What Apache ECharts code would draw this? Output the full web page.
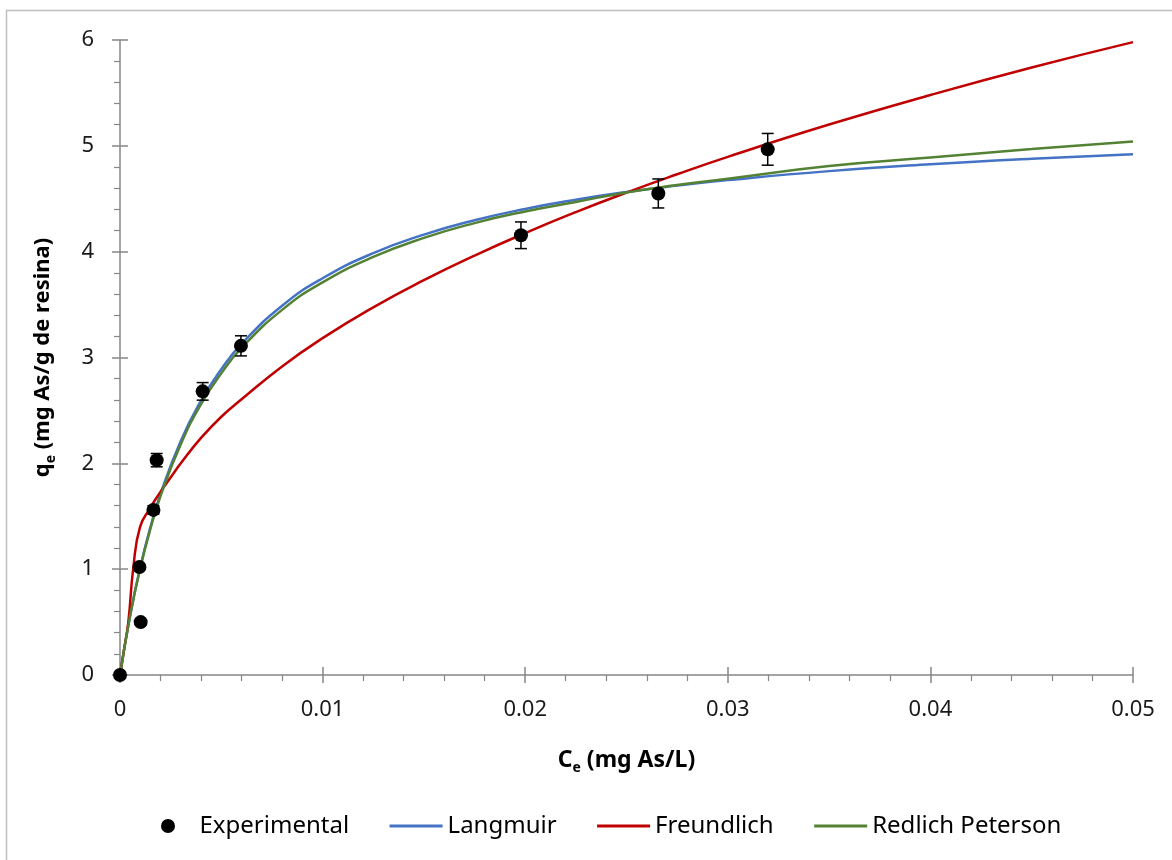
<!DOCTYPE html>
<html><head><meta charset="utf-8">
<script src="https://cdn.jsdelivr.net/npm/echarts@6/dist/echarts.min.js"></script>
<style>html,body{margin:0;padding:0;background:#fff}#c{width:1172px;height:860px}</style>
</head><body><div id="c"></div>
<script>
const expC   = [0, 0.00096, 0.00102, 0.00165, 0.00181, 0.00408, 0.00597, 0.01979, 0.02657, 0.03197];
const expQ   = [0, 1.02, 0.50, 1.56, 2.03, 2.68, 3.11, 4.155, 4.55, 4.967];
const expErr = [0, 0.02, 0.02, 0.04, 0.063, 0.083, 0.095, 0.126, 0.137, 0.15];

// Model curves
const curveC = [0, 0.0005, 0.001, 0.0015, 0.002, 0.003, 0.004, 0.005, 0.006, 0.008, 0.01, 0.0125, 0.015, 0.0175, 0.02, 0.0225, 0.025, 0.0275, 0.03, 0.035, 0.04, 0.045, 0.05];
const langQ  = [0, 0.563, 1.019, 1.395, 1.711, 2.212, 2.592, 2.889, 3.128, 3.489, 3.749, 3.986, 4.161, 4.297, 4.404, 4.491, 4.564, 4.624, 4.676, 4.761, 4.826, 4.878, 4.920];
const rpQ    = [0, 0.56, 1.01, 1.38, 1.69, 2.18, 2.56, 2.85, 3.09, 3.45, 3.71, 3.95, 4.13, 4.27, 4.38, 4.47, 4.56, 4.63, 4.69, 4.81, 4.89, 4.97, 5.04];
const freC   = [0, 0.0002, 0.00041, 0.00066, 0.00099, 0.00148, 0.00189, 0.00255, 0.003, 0.004, 0.005, 0.006, 0.008, 0.01, 0.0125, 0.015, 0.0175, 0.02, 0.0225, 0.025, 0.0275, 0.03, 0.035, 0.04, 0.045, 0.05];
const freQ   = [0, 0.24, 0.5, 1.02, 1.40, 1.575, 1.70, 1.88, 2.00, 2.24, 2.44, 2.605, 2.916, 3.183, 3.474, 3.731, 3.963, 4.176, 4.374, 4.558, 4.731, 4.896, 5.201, 5.48, 5.74, 5.98];

const xTicks = {min: 0, max: 0.05, interval: 0.01};
const yTicks = {min: 0, max: 6, interval: 1};
const seriesNames = ['Experimental', 'Langmuir', 'Freundlich', 'Redlich Peterson'];

const FONT = 'Noto Sans';
const axisColor = '#868686';
const chart = echarts.init(document.getElementById('c'));

function mainAxis(t, isX) {
  return {
    type: 'value', min: t.min, max: t.max, interval: t.interval,
    position: isX ? 'bottom' : 'left',
    axisLine: {show: true, lineStyle: {color: axisColor, width: 1.5}},
    axisTick: {show: true, inside: false, length: 8, lineStyle: {color: axisColor, width: 1.5}},
    minorTick: {show: true, splitNumber: 5, length: 6, lineStyle: {color: axisColor, width: 1.2}},
    splitLine: {show: false},
    axisLabel: {
      show: true, fontFamily: FONT, fontSize: 22, color: '#1a1a1a', margin: 24,
      formatter: v => v === 0 ? '0' : String(+v.toFixed(3))
    }
  };
}
function crossAxis(t, isX) {
  return {
    type: 'value', min: t.min, max: t.max, interval: t.interval,
    position: isX ? 'bottom' : 'left', offset: 0,
    axisLine: {show: false},
    axisTick: {show: true, inside: true, length: 8, lineStyle: {color: axisColor, width: 1.5}},
    splitLine: {show: false}, axisLabel: {show: false}
  };
}

const richName = (sz) => ({
  b: {fontFamily: FONT, fontWeight: 'bold', fontSize: sz, color: '#000', lineHeight: 30, verticalAlign: 'middle'},
  s: {fontFamily: FONT, fontWeight: 'bold', fontSize: 14, color: '#000', lineHeight: 14, verticalAlign: 'bottom'}
});
const xMain = mainAxis(xTicks, true);
xMain.name = '{b|C}{s|e}{b| (mg As/L)}';
xMain.nameLocation = 'middle';
xMain.nameGap = 70;
xMain.nameTextStyle = {rich: richName(23)};
const yMain = mainAxis(yTicks, false);
yMain.axisLabel.margin = 26;
yMain.name = '{b|q}{s|e}{b| (mg As/g de resina)}';
yMain.nameLocation = 'middle';
yMain.nameRotate = 90;
yMain.nameGap = 62;
yMain.nameTextStyle = {rich: richName(22)};

const toPairs = (xs, ys) => xs.map((x, i) => [x, ys[i]]);
const lineColors = {'Langmuir': '#4472C4', 'Freundlich': '#C00000', 'Redlich Peterson': '#548235'};

chart.setOption({
  animation: false,
  backgroundColor: '#fff',
  graphic: [{type: 'rect', shape: {x: 6.5, y: 10.5, width: 1300, height: 1000},
    style: {fill: 'none', stroke: '#bfbfbf', lineWidth: 1.5}, silent: true}],
  grid: {left: 120, right: 39, top: 40, bottom: 185, containLabel: false},
  xAxis: [xMain, crossAxis(xTicks, true)],
  yAxis: [yMain, crossAxis(yTicks, false)],
  legend: {
    data: seriesNames.map(n => n === 'Experimental' ? {name: n} : {name: n, itemStyle: {opacity: 0}, lineStyle: {width: 3, color: lineColors[n]}}),
    bottom: 17, left: 156,
    itemWidth: 53, itemHeight: 14, itemGap: 39,
    textStyle: {fontFamily: FONT, fontSize: 24, color: '#000'}
  },
  series: [
    {name: 'Langmuir', type: 'line', data: toPairs(curveC, langQ), symbol: 'none',
     smooth: 0.5, lineStyle: {color: '#4472C4', width: 2.5}, itemStyle: {color: '#4472C4'}, z: 2},
    {name: 'Freundlich', type: 'line', data: toPairs(freC, freQ), symbol: 'none',
     smooth: 0.5, lineStyle: {color: '#C00000', width: 2.5}, itemStyle: {color: '#C00000'}, z: 3},
    {name: 'Redlich Peterson', type: 'line', data: toPairs(curveC, rpQ), symbol: 'none',
     smooth: 0.5, lineStyle: {color: '#548235', width: 2.5}, itemStyle: {color: '#548235'}, z: 4},
    {type: 'custom', silent: true, z: 5,
     data: expC.map((c, i) => [c, expQ[i], expErr[i]]),
     encode: {x: 0, y: 1},
     renderItem: (params, api) => {
       const x = api.value(0), y = api.value(1), e = api.value(2);
       if (!(e > 0)) return null;
       const t = api.coord([x, y + e]), b = api.coord([x, y - e]);
       const hw = 6, st = {stroke: '#000', lineWidth: 1.5};
       return {type: 'group', children: [
         {type: 'line', shape: {x1: t[0], y1: t[1], x2: b[0], y2: b[1]}, style: st},
         {type: 'line', shape: {x1: t[0] - hw, y1: t[1], x2: t[0] + hw, y2: t[1]}, style: st},
         {type: 'line', shape: {x1: b[0] - hw, y1: b[1], x2: b[0] + hw, y2: b[1]}, style: st}
       ]};
     }},
    {name: 'Experimental', type: 'scatter', data: toPairs(expC, expQ), symbol: 'circle', symbolSize: 14,
     itemStyle: {color: '#000', opacity: 1}, z: 6}
  ]
});
</script></body></html>
